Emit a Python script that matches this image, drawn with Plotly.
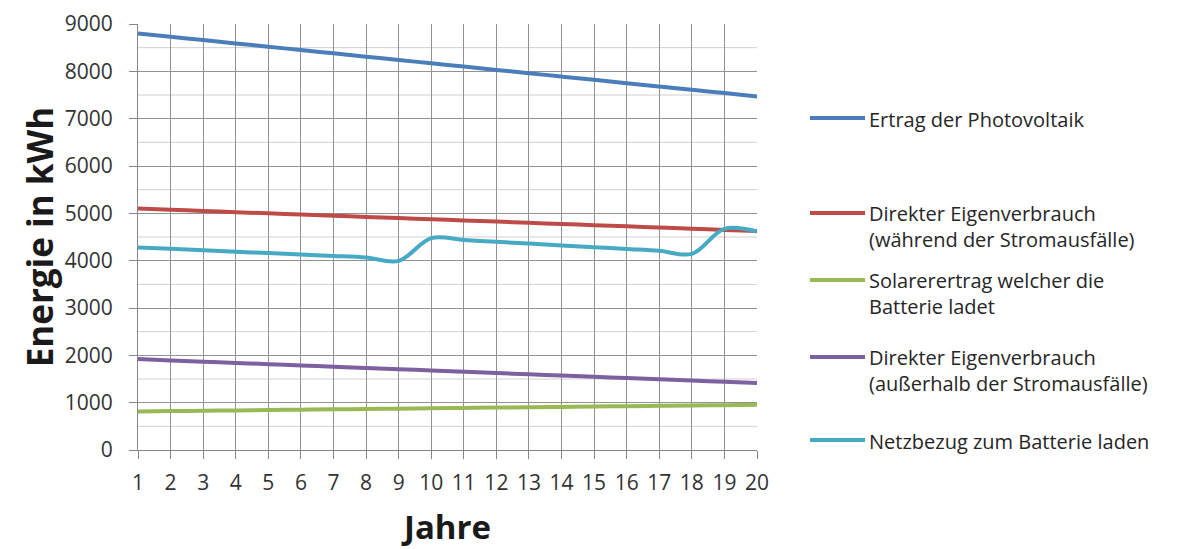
import plotly.graph_objects as go

# Jahre 1..20
jahre = list(range(1, 21))

ertrag_pv = [8800, 8730, 8660, 8590, 8520, 8450, 8380, 8310, 8240, 8170,
             8100, 8030, 7960, 7890, 7820, 7750, 7680, 7610, 7540, 7470]
eigen_waehrend = [5100, 5075, 5050, 5025, 5000, 4975, 4950, 4925, 4900, 4875,
                  4850, 4825, 4800, 4775, 4750, 4725, 4700, 4675, 4650, 4625]
solar_batterie = [815, 822, 830, 837, 845, 852, 859, 867, 874, 882,
                  889, 896, 904, 911, 918, 926, 933, 940, 948, 955]
eigen_ausserhalb = [1920, 1893, 1866, 1840, 1813, 1786, 1760, 1733, 1706, 1680,
                    1653, 1626, 1600, 1573, 1546, 1520, 1493, 1466, 1440, 1413]
netzbezug = [4280, 4250, 4220, 4190, 4160, 4130, 4100, 4066, 3996, 4475,
             4437, 4399, 4361, 4323, 4285, 4247, 4209, 4144, 4672, 4615]

series = [
    ("Ertrag der Photovoltaik", ertrag_pv, "#4A7EBB"),
    ("Direkter Eigenverbrauch<br>(während der Stromausfälle)", eigen_waehrend, "#BE4B48"),
    ("Solarerertrag welcher die<br>Batterie ladet", solar_batterie, "#98B954"),
    ("Direkter Eigenverbrauch<br>(außerhalb der Stromausfälle)", eigen_ausserhalb, "#7D60A0"),
    ("Netzbezug zum Batterie laden", netzbezug, "#46AAC5"),
]

FONT = "Open Sans"
W, H = 1202, 549
L, R, T, B = 138, 445, 24, 99
PW, PH = W - L - R, H - T - B


def px_x(px):
    return (px - L) / PW


def px_y(py):
    return (H - B - py) / PH


fig = go.Figure()
for name, values, color in series:
    fig.add_trace(go.Scatter(
        x=jahre, y=values, mode="lines", name=name,
        line=dict(color=color, width=4, shape="spline", smoothing=1),
        showlegend=False,
    ))

# Legend drawn beside the plot: colored stroke plus (possibly two-line) label
legend_rows = [118, 213, 280, 357, 440]
shapes = []
annotations = []
for (name, values, color), y1 in zip(series, legend_rows):
    shapes.append(dict(
        type="line", xref="paper", yref="paper",
        x0=px_x(810), x1=px_x(865), y0=px_y(y1), y1=px_y(y1),
        line=dict(color=color, width=4),
    ))
    two_lines = "<br>" in name
    annotations.append(dict(
        text=name, xref="paper", yref="paper",
        x=px_x(867), y=px_y(y1 - 15) if two_lines else px_y(y1 + 1),
        xanchor="left", yanchor="top" if two_lines else "middle",
        align="left", showarrow=False,
        font=dict(family=FONT, size=20, color="#262626"),
    ))

# Minor horizontal gridlines at the half-thousands
for v in range(500, 9000, 1000):
    shapes.append(dict(
        type="line", xref="paper", yref="y", x0=0, x1=1, y0=v, y1=v,
        line=dict(color="#d0d0d0", width=1), layer="below",
    ))

fig.update_layout(
    width=W, height=H,
    margin=dict(l=L, r=R, t=T, b=B),
    paper_bgcolor="white", plot_bgcolor="white",
    font=dict(family=FONT, color="#333333"),
    shapes=shapes, annotations=annotations,
    xaxis=dict(
        range=[1, 20], tickmode="array", tickvals=jahre,
        ticktext=[str(j) for j in jahre],
        showgrid=True, gridcolor="#929292", gridwidth=1,
        showline=True, linecolor="#868686", linewidth=1,
        ticks="outside", ticklen=8, tickcolor="#868686",
        tickfont=dict(family=FONT, size=21, color="#333333"),
        ticklabelstandoff=6,
        zeroline=False, automargin=False,
        title=dict(text="<b>Jahre</b>", font=dict(family=FONT, size=33, color="#1a1a1a"),
                   standoff=20),
    ),
    yaxis=dict(
        range=[0, 9000], tickmode="array", tickvals=list(range(0, 9001, 1000)),
        showgrid=True, gridcolor="#929292", gridwidth=1,
        showline=True, linecolor="#868686", linewidth=1,
        ticks="outside", ticklen=8, tickcolor="#868686",
        tickfont=dict(family=FONT, size=21, color="#333333"),
        ticklabelstandoff=12,
        zeroline=False, automargin=False,
        title=dict(text="<b>Energie in kWh</b>", font=dict(family=FONT, size=35, color="#1a1a1a"),
                   standoff=0),
    ),
)

fig.write_html("out.html")
